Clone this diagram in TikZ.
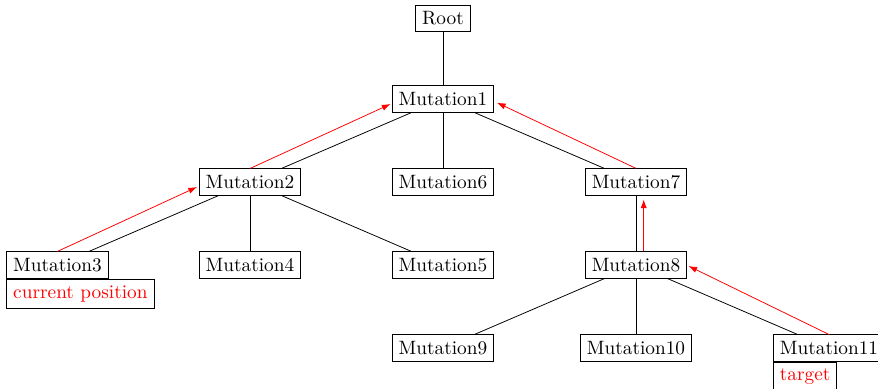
\documentclass[tikz,border=0pt]{standalone}
\usetikzlibrary{arrows.meta}
\begin{document}
\begin{tikzpicture}[x=0.518pt,y=-0.518pt,
  mut/.style={draw,inner sep=3.33pt},
  tag/.style={draw,text=red,inner sep=3.33pt,anchor=north west},
  edge/.style={draw,black},
  path/.style={draw,red,-{Latex[length=4.5pt,width=3.2pt]}}]
\useasboundingbox (0,0) rectangle (878,389);
% tree nodes
\node[mut] (root) at (443,18.5) {Root};
\node[mut] (m1) at (443,99) {Mutation1};
\node[mut] (m2) at (250,182) {Mutation2};
\node[mut] (m6) at (443,182) {Mutation6};
\node[mut] (m7) at (636,182) {Mutation7};
\node[mut] (m3) at (57.5,265) {Mutation3};
\node[mut] (m4) at (250,265) {Mutation4};
\node[mut] (m5) at (443,265) {Mutation5};
\node[mut] (m8) at (636,265) {Mutation8};
\node[mut] (m9) at (443,348) {Mutation9};
\node[mut] (m10) at (636,348) {Mutation10};
\node[mut] (m11) at (829,348) {Mutation11};
% annotations under nodes
\node[tag] (cur) at (m3.south west) {current position};
\node[tag] (tgt) at (m11.south west) {target};
% parent-child edges
\path[edge] (root) -- (m1);
\path[edge] (m1) -- (m2);
\path[edge] (m1) -- (m6);
\path[edge] (m1) -- (m7);
\path[edge] (m2) -- (m3);
\path[edge] (m2) -- (m4);
\path[edge] (m2) -- (m5);
\path[edge] (m7) -- (m8);
\path[edge] (m8) -- (m9);
\path[edge] (m8) -- (m10);
\path[edge] (m8) -- (m11);
% route from current position up to the root branch
\path[path] (m3.north) -- ([xshift=-1pt,yshift=-2.6pt]m2.west);
\path[path] (m2.north) -- ([xshift=-0.7pt,yshift=-2.6pt]m1.west);
\path[path] (m7.north) -- ([xshift=1.5pt,yshift=-1.9pt]m1.east);
\path[path] ([xshift=4pt]m8.north) -- ([xshift=4pt,yshift=-2pt]m7.south);
\path[path] (m11.north) -- ([xshift=0.7pt,yshift=-0.5pt]m8.east);
\end{tikzpicture}
\end{document}
